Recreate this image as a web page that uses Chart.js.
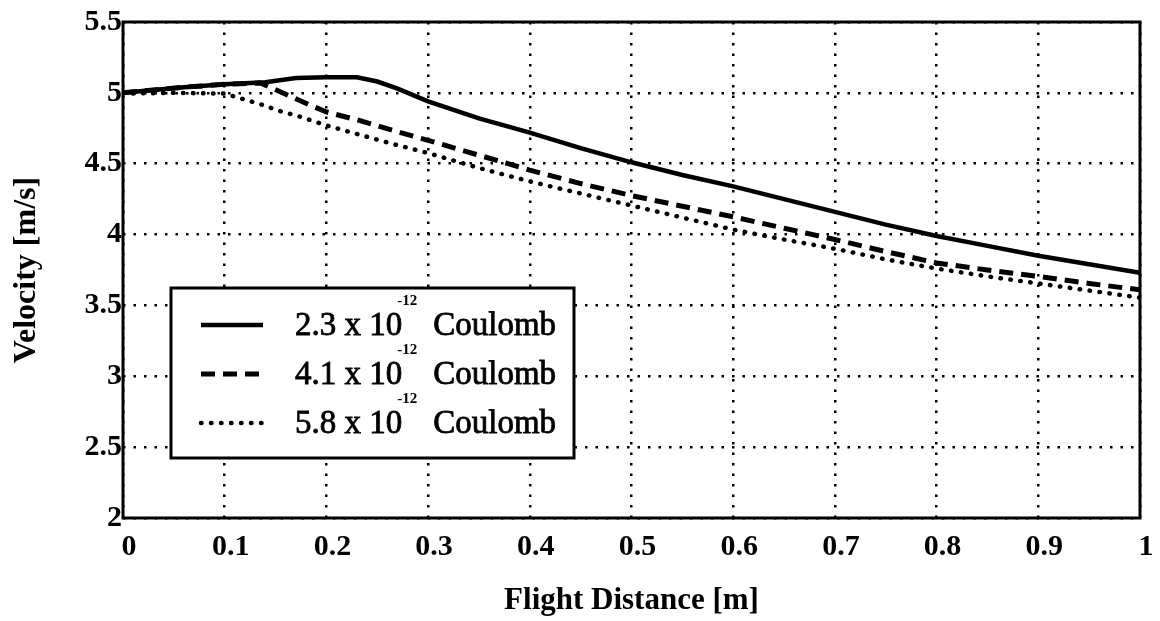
<!DOCTYPE html>
<html>
<head>
<meta charset="utf-8">
<title>Velocity vs flight distance</title>
<script src="https://cdn.jsdelivr.net/npm/chart.js@4.4.1/dist/chart.umd.min.js"></script>
<style>
  html, body { margin: 0; padding: 0; background: #fff; }
  #wrap { width: 1160px; height: 621px; }
</style>
</head>
<body>
<div id="wrap"><canvas id="myChart" width="1160" height="621"></canvas></div>
<script>
// values
const xTicks = ['0', '0.1', '0.2', '0.3', '0.4', '0.5', '0.6', '0.7', '0.8', '0.9', '1'];
const yTicks = ['2', '2.5', '3', '3.5', '4', '4.5', '5', '5.5'];

const seriesNames = ['2.3 x 10', '4.1 x 10', '5.8 x 10'];
const seriesExp = '-12';
const seriesUnit = 'Coulomb';

const x23 = [0, 0.03, 0.06, 0.1, 0.14, 0.17, 0.2, 0.23, 0.25, 0.27, 0.3, 0.35, 0.4, 0.45, 0.5, 0.55, 0.6, 0.65, 0.7, 0.75, 0.8, 0.85, 0.9, 0.95, 1.0];
const v23 = [5.0, 5.02, 5.04, 5.06, 5.075, 5.105, 5.11, 5.11, 5.08, 5.03, 4.94, 4.82, 4.72, 4.61, 4.51, 4.42, 4.34, 4.25, 4.16, 4.07, 3.99, 3.92, 3.85, 3.79, 3.73];

const x41 = [0, 0.03, 0.06, 0.1, 0.135, 0.16, 0.185, 0.2, 0.23, 0.27, 0.3, 0.35, 0.4, 0.45, 0.5, 0.55, 0.6, 0.65, 0.7, 0.75, 0.8, 0.85, 0.9, 0.95, 1.0];
const v41 = [5.0, 5.02, 5.04, 5.06, 5.07, 4.99, 4.91, 4.865, 4.81, 4.725, 4.665, 4.56, 4.455, 4.36, 4.275, 4.2, 4.125, 4.045, 3.965, 3.88, 3.8, 3.75, 3.705, 3.655, 3.61];

const x58 = [0, 0.05, 0.1, 0.135, 0.155, 0.175, 0.2, 0.23, 0.265, 0.3, 0.35, 0.4, 0.45, 0.5, 0.55, 0.6, 0.65, 0.7, 0.75, 0.8, 0.85, 0.9, 0.95, 1.0];
const v58 = [4.995, 5.0, 4.995, 4.92, 4.87, 4.83, 4.77, 4.71, 4.64, 4.575, 4.47, 4.375, 4.29, 4.205, 4.12, 4.035, 3.965, 3.9, 3.825, 3.76, 3.705, 3.655, 3.605, 3.555];

const serif = '"Liberation Serif", "Times New Roman", serif';

function pts(xs, ys) {
  return xs.map((x, i) => ({ x: x, y: ys[i] }));
}

// box frame around plot area
const framePlugin = {
  id: 'frame',
  afterDraw(chart) {
    const { ctx, chartArea: a } = chart;
    ctx.save();
    ctx.strokeStyle = '#000';
    ctx.lineWidth = 3;
    ctx.setLineDash([]);
    ctx.strokeRect(a.left, a.top, a.right - a.left, a.bottom - a.top);
    ctx.restore();
  }
};

// legend box inside the plot, with superscripts
const legendBox = {
  id: 'legendBox',
  afterDraw(chart) {
    const ctx = chart.ctx;
    const a = chart.chartArea;
    const bx = a.left + 48, by = a.top + 266, bw = 403, bh = 170;
    ctx.save();
    ctx.fillStyle = '#fff';
    ctx.fillRect(bx, by, bw, bh);
    ctx.strokeStyle = '#000';
    ctx.lineWidth = 3;
    ctx.setLineDash([]);
    ctx.strokeRect(bx, by, bw, bh);

    // scanned text looks heavier than plain regular, so add a thin outline
    function txt(s, x, y) {
      ctx.fillText(s, x, y);
      ctx.lineWidth = 0.8;
      ctx.strokeText(s, x, y);
    }

    chart.data.datasets.forEach((ds, i) => {
      const base = by + 47 + i * 49;
      ctx.beginPath();
      ctx.lineWidth = ds.borderWidth;
      ctx.lineCap = ds.borderCapStyle || 'butt';
      ctx.setLineDash(ds.borderDash || []);
      ctx.moveTo(bx + 30, base - 10);
      ctx.lineTo(bx + 92, base - 10);
      ctx.stroke();

      ctx.setLineDash([]);
      ctx.lineCap = 'butt';
      ctx.fillStyle = '#000';
      ctx.textBaseline = 'alphabetic';
      ctx.textAlign = 'left';
      ctx.font = '33px ' + serif;
      const tx = bx + 124;
      txt(seriesNames[i], tx, base);
      const w = ctx.measureText(seriesNames[i]).width;
      ctx.font = 'bold 15px ' + serif;
      ctx.fillText(seriesExp, tx + w - 5, base - 30);
      ctx.font = '33px ' + serif;
      txt(seriesUnit, tx + w + 31, base);
    });
    ctx.restore();
  }
};

new Chart(document.getElementById('myChart'), {
  type: 'line',
  data: {
    datasets: [{
      label: seriesNames[0],
      data: pts(x23, v23),
      borderColor: '#000',
      borderWidth: 4.5,
      borderDash: [],
      borderCapStyle: 'butt'
    }, {
      label: seriesNames[1],
      data: pts(x41, v41),
      borderColor: '#000',
      borderWidth: 5,
      borderDash: [14, 8],
      borderCapStyle: 'butt'
    }, {
      label: seriesNames[2],
      data: pts(x58, v58),
      borderColor: '#000',
      borderWidth: 4.5,
      borderDash: [0.5, 9.5],
      borderCapStyle: 'round'
    }]
  },
  options: {
    responsive: false,
    animation: false,
    devicePixelRatio: 1,
    layout: { padding: { top: 22, right: 20, left: 0, bottom: 0 } },
    elements: {
      point: { radius: 0, hoverRadius: 0 },
      line: { tension: 0, fill: false }
    },
    plugins: {
      legend: { display: false },
      tooltip: { enabled: false }
    },
    scales: {
      x: {
        type: 'linear',
        min: 0,
        max: 1,
        afterFit(scale) { scale.height = 103; },
        afterBuildTicks(scale) {
          scale.ticks = xTicks.map(t => ({ value: parseFloat(t) }));
        },
        ticks: {
          color: '#000',
          font: { family: serif, size: 30, weight: 'bold' },
          padding: 11,
          labelOffset: 6,
          maxRotation: 0,
          autoSkip: false,
          callback: (v, i) => xTicks[i]
        },
        grid: {
          color: '#000',
          lineWidth: 2.5,
          drawTicks: false
        },
        border: { display: false, dash: [2.5, 8] },
        title: {
          display: true,
          text: 'Flight Distance [m]',
          color: '#000',
          font: { family: serif, size: 31, weight: 'bold' },
          padding: { top: 0, bottom: 1 }
        }
      },
      y: {
        min: 2,
        max: 5.5,
        afterFit(scale) { scale.width = 123; },
        afterBuildTicks(scale) {
          scale.ticks = yTicks.map(t => ({ value: parseFloat(t) }));
        },
        ticks: {
          color: '#000',
          font: { family: serif, size: 30, weight: 'bold' },
          padding: 1,
          autoSkip: false,
          callback: (v, i) => yTicks[i]
        },
        grid: {
          color: '#000',
          lineWidth: 2.5,
          drawTicks: false
        },
        border: { display: false, dash: [2.5, 8] },
        title: {
          display: true,
          text: 'Velocity [m/s]',
          color: '#000',
          font: { family: serif, size: 32, weight: 'bold' },
          padding: { top: 8, bottom: 0 }
        }
      }
    }
  },
  plugins: [framePlugin, legendBox]
});
</script>
</body>
</html>
